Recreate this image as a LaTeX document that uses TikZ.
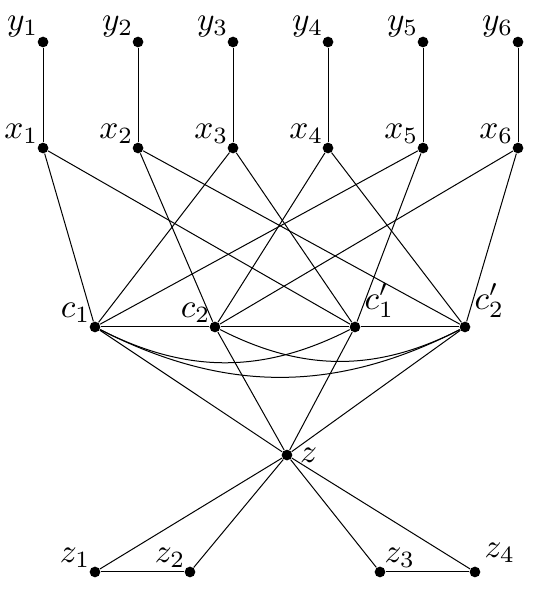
\documentclass[tikz,border=0pt]{standalone}

\begin{document}
\begin{tikzpicture}[x=1cm,y=1cm,line width=0.3pt,
  vert/.style={circle,fill=black,inner sep=0pt,minimum size=3.2pt},
  every label/.style={inner sep=0pt}]
  \useasboundingbox (0,0) rectangle (5.884,6.316);
  % top two rows
  \foreach \i in {1,...,6} {
    \pgfmathsetmacro\xx{0.453+\i-1}
    \node[vert,label={above left:$y_{\i}$}] (y\i) at (\xx,5.874) {};
    \node[vert,label={above left:$x_{\i}$}] (x\i) at (\xx,4.758) {};
    \draw (y\i) -- (x\i);
  }
  % clause row
  \node[vert,label={above left:$c_1$}] (c1) at (1.0,2.874) {};
  \node[vert,label={above left:$c_2$}] (c2) at (2.263,2.874) {};
  \node[vert,label={[inner sep=1.5pt]above right:$c_1'$}] (c1p) at (3.737,2.874) {};
  \node[vert,label={[inner sep=1.5pt]above right:$c_2'$}] (c2p) at (4.895,2.874) {};
  \node[vert,label={[inner sep=2pt]right:$z$}] (z) at (3.021,1.526) {};
  \node[vert,label={above left:$z_1$}] (z1) at (1.0,0.295) {};
  \node[vert,label={above left:$z_2$}] (z2) at (2.0,0.295) {};
  \node[vert,label={above right:$z_3$}] (z3) at (4.0,0.295) {};
  \node[vert,label={[inner sep=1.5pt]above right:$z_4$}] (z4) at (5.0,0.295) {};
  \foreach \a/\b in {x1/c1,x3/c1,x5/c1,x2/c2,x4/c2,x6/c2,
      x1/c1p,x3/c1p,x5/c1p,x2/c2p,x4/c2p,x6/c2p,
      c1/c2,c2/c1p,c1p/c2p,c1/z,c2/z,c1p/z,c2p/z,
      z/z1,z/z2,z/z3,z/z4,z1/z2,z3/z4}
    \draw (\a) -- (\b);
  \draw (c1) to[bend right=27] (c1p);
  \draw (c1) to[bend right=27] (c2p);
  \draw (c2) to[bend right=27] (c2p);
\end{tikzpicture}
\end{document}
